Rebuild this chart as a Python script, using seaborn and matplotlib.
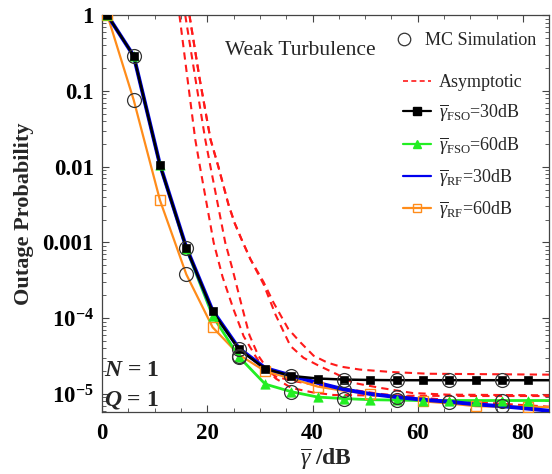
import matplotlib
matplotlib.use('Agg')
import matplotlib.pyplot as plt
from matplotlib.lines import Line2D
from matplotlib.ticker import FixedLocator, LogLocator, NullFormatter, MultipleLocator
import pandas as pd
import seaborn as sns

# average SNR grid (dB) of the exact curves; markers sit on the first 17 points
snr_db = [1, 6, 11, 16, 21, 26, 31, 36, 41, 46, 51, 56, 61, 66, 71, 76, 81, 85]
fso30 = [1.0, 0.29, 0.0105, 8.5e-4, 1.23e-4, 3.9e-5, 2.15e-5, 1.73e-5, 1.6e-5, 1.55e-5,
         1.53e-5, 1.52e-5, 1.52e-5, 1.52e-5, 1.52e-5, 1.52e-5, 1.52e-5, 1.52e-5]
fso60 = [1.0, 0.29, 0.0105, 8.3e-4, 1.08e-4, 3.1e-5, 1.35e-5, 1.07e-5, 9.1e-6, 8.7e-6,
         8.4e-6, 8.3e-6, 8.2e-6, 8.2e-6, 8.2e-6, 8.2e-6, 8.2e-6, 8.2e-6]
rf30 = [1.0, 0.29, 0.0106, 8.6e-4, 1.26e-4, 4.0e-5, 2.2e-5, 1.75e-5, 1.4e-5, 1.15e-5,
        1.0e-5, 9.1e-6, 8.4e-6, 7.9e-6, 7.3e-6, 6.9e-6, 6.4e-6, 6.0e-6]
rf60 = [1.0, 0.076, 0.0036, 3.8e-4, 7.6e-5, 3.3e-5, 2.0e-5, 1.6e-5, 1.25e-5, 1.1e-5,
        1.0e-5, 9.0e-6, 8.0e-6, 7.5e-6, 6.9e-6, 6.8e-6, 6.8e-6, 6.7e-6]

# Monte Carlo points
mc_x_fso30 = [6, 16, 26, 36, 46, 56, 66, 76]
mc_fso30 = [0.29, 8.5e-4, 3.9e-5, 1.73e-5, 1.55e-5, 1.52e-5, 1.52e-5, 1.52e-5]
mc_x_fso60 = [26, 36, 46, 56, 76]
mc_fso60 = [3.1e-5, 1.07e-5, 8.6e-6, 8.4e-6, 8.2e-6]
mc_x_rf30 = [46, 56, 66, 76]
mc_rf30 = [1.13e-5, 9.1e-6, 7.9e-6, 6.9e-6]
mc_x_rf60 = [6, 16, 26]
mc_rf60 = [0.076, 3.8e-4, 3.2e-5]

# asymptotic curves
asy_a_x = [14.7, 16.2, 17.7, 18.6, 21.2, 22.9, 25, 26.9, 29.1, 30.5, 33, 36, 41, 47, 53, 60,
           66, 75, 85]
asy_a = [1.0, 0.15, 0.023, 0.01, 1e-3, 3.5e-4, 1.3e-4, 5.8e-5, 3.2e-5, 2.3e-5, 1.7e-5, 1.5e-5,
         1.3e-5, 1.15e-5, 1.0e-5, 9.0e-6, 8.3e-6, 7.5e-6, 6.8e-6]
asy_b_x = [15.8, 17.7, 19.6, 20.6, 23.4, 24.8, 26.5, 28, 29.7, 31.5, 33, 36, 40, 44, 55, 70, 85]
asy_b = [1.0, 0.15, 0.023, 0.01, 1e-3, 4.4e-4, 1.5e-4, 6e-5, 3.2e-5, 2.1e-5, 1.6e-5, 1.2e-5,
         1.05e-5, 9.7e-6, 9.5e-6, 9.4e-6, 9.4e-6]
asy_c_x = [16.6, 18.5, 20.6, 22.1, 24, 25.2, 26.5, 28.2, 30.7, 32.6, 35.4, 37.7, 40.2, 42.8,
           45.3, 49, 55, 62, 85]
asy_c = [1.0, 0.15, 0.023, 0.01, 3.2e-3, 1.8e-3, 1.1e-3, 6e-4, 3e-4, 1.6e-4, 7.2e-5, 4.8e-5,
         3.2e-5, 2.6e-5, 2.3e-5, 2.1e-5, 1.95e-5, 1.85e-5, 1.8e-5]
asy_d_x = [16.6, 18.5, 20.6, 22.1, 24, 25.2, 26.5, 28.2, 30.7, 33, 35.8, 38.3, 41, 44.8, 47.8,
           53, 59, 65.7, 85]
asy_d = [1.0, 0.15, 0.023, 0.01, 3.2e-3, 1.8e-3, 1.1e-3, 6e-4, 2.8e-4, 1.1e-4, 4.3e-5, 3.0e-5,
         2.4e-5, 1.8e-5, 1.4e-5, 1.2e-5, 1.03e-5, 9.8e-6, 9.6e-6]

sns.set_style('ticks')
plt.rcParams['font.family'] = ['Liberation Serif', 'DejaVu Serif']
plt.rcParams['mathtext.fontset'] = 'custom'
plt.rcParams['mathtext.rm'] = 'Liberation Serif'
plt.rcParams['mathtext.it'] = 'Liberation Serif:italic'
plt.rcParams['mathtext.bf'] = 'Liberation Serif:bold'
plt.rcParams['mathtext.bfit'] = 'Liberation Serif:bold:italic'

RED = '#ff1a1a'
BLUE = '#0000ee'
GREEN = '#22ee22'
ORANGE = '#ff8c1a'

fig = plt.figure(figsize=(5.52, 4.74), dpi=100)
ax = fig.add_axes([0.185, 0.131, 0.81, 0.837])

exact = pd.DataFrame({
    'snr': snr_db * 4,
    'P': fso30 + fso60 + rf30 + rf60,
    'case': ['fso30'] * 18 + ['fso60'] * 18 + ['rf30'] * 18 + ['rf60'] * 18,
})

asy = pd.concat([
    pd.DataFrame({'snr': asy_a_x, 'P': asy_a, 'curve': 'a'}),
    pd.DataFrame({'snr': asy_b_x, 'P': asy_b, 'curve': 'b'}),
    pd.DataFrame({'snr': asy_c_x, 'P': asy_c, 'curve': 'c'}),
    pd.DataFrame({'snr': asy_d_x, 'P': asy_d, 'curve': 'd'}),
])

for name, g in asy.groupby('curve'):
    sns.lineplot(data=g, x='snr', y='P', color=RED, lw=1.5, ax=ax, sort=False,
                 estimator=None, dashes=False, linestyle=(0, (3.5, 2.5)), zorder=2)

sns.lineplot(data=exact[exact.case == 'rf60'], x='snr', y='P', color=ORANGE, lw=1.6,
             ax=ax, estimator=None, zorder=3)
sns.lineplot(data=exact[exact.case == 'fso60'], x='snr', y='P', color=GREEN, lw=2.0,
             ax=ax, estimator=None, zorder=3)
sns.lineplot(data=exact[exact.case == 'rf30'], x='snr', y='P', color=BLUE, lw=2.8,
             ax=ax, estimator=None, zorder=4)
sns.lineplot(data=exact[exact.case == 'fso30'], x='snr', y='P', color='black', lw=1.8,
             ax=ax, estimator=None, zorder=5)

# markers
ax.plot(snr_db[:-1:2], rf60[:-1:2], 's', ms=6.5, mfc='none', mec=ORANGE, mew=1.0, zorder=6)
sns.scatterplot(x=snr_db[:-1], y=fso60[:-1], marker='^', color=GREEN, s=45,
                edgecolor=GREEN, ax=ax, zorder=6)
sns.scatterplot(x=snr_db[:-1], y=fso30[:-1], marker='s', color='black', s=36,
                edgecolor='black', ax=ax, zorder=7)
for mx, my in [(mc_x_fso30, mc_fso30), (mc_x_fso60, mc_fso60),
               (mc_x_rf30, mc_rf30), (mc_x_rf60, mc_rf60)]:
    ax.plot(mx, my, 'o', ms=10, mfc='none', mec='#333333', mew=0.9, zorder=8)

ax.set_yscale('log')
ax.set_xlim(0, 85)
ax.set_ylim(5.8e-6, 1)

yt = [1e-5, 1e-4, 1e-3, 1e-2, 1e-1, 1]
ax.yaxis.set_major_locator(FixedLocator(yt))
ax.set_yticklabels([r'$\mathbf{10^{-5}}$', r'$\mathbf{10^{-4}}$', '0.001', '0.01', '0.1', '1'])
ax.yaxis.set_minor_locator(LogLocator(base=10, subs=range(2, 10), numticks=20))
ax.yaxis.set_minor_formatter(NullFormatter())
ax.xaxis.set_major_locator(MultipleLocator(20))
ax.xaxis.set_minor_locator(MultipleLocator(5))
for lab in ax.get_xticklabels() + ax.get_yticklabels():
    lab.set_fontweight('bold')
ax.tick_params(axis='both', which='both', direction='in', top=True, right=True,
               labelsize=16.5, colors='#444444', labelcolor='black')
ax.tick_params(axis='y', which='major', pad=6)
ax.tick_params(axis='x', which='major', pad=8)
ax.tick_params(which='major', length=5, width=0.8)
ax.tick_params(which='minor', length=3, width=0.6)
for sp in ax.spines.values():
    sp.set_color('#444444')
    sp.set_linewidth(0.9)

ax.set_ylabel('Outage Probability', fontsize=16, fontweight='bold', labelpad=6)
ax.set_xlabel(r'$\overline{\gamma}$ /dB', fontsize=17, fontweight='bold', labelpad=2)

ax.text(0.275, 0.91, 'Weak Turbulence', transform=ax.transAxes, fontsize=15.5,
        ha='left', va='center')
ax.text(0.005, 0.105, r'$\mathbfit{N}$ = 1', transform=ax.transAxes, fontsize=17,
        fontweight='bold', ha='left', va='center')
ax.text(0.005, 0.03, r'$\mathbfit{Q}$ = 1', transform=ax.transAxes, fontsize=17,
        fontweight='bold', ha='left', va='center')

h_mc = [Line2D([], [], ls='none', marker='o', ms=9, mfc='none', mec='#333333', mew=0.9)]
leg1 = ax.legend(h_mc, ['MC Simulation'], loc='upper right', bbox_to_anchor=(0.995, 0.985),
                 frameon=False, fontsize=13, handlelength=1.5, handletextpad=0.4,
                 borderaxespad=0.2)
ax.add_artist(leg1)

handles = [
    Line2D([], [], color=RED, ls=(0, (3, 2)), lw=1.2),
    Line2D([], [], color='black', lw=1.6, marker='s', ms=6),
    Line2D([], [], color=GREEN, lw=1.6, marker='^', ms=6),
    Line2D([], [], color=BLUE, lw=1.6),
    Line2D([], [], color=ORANGE, lw=1.6, marker='s', ms=6, mfc='none', mec=ORANGE),
]
labels = ['Asymptotic',
          r'$\overline{\gamma}_{\rm FSO}$=30dB', r'$\overline{\gamma}_{\rm FSO}$=60dB',
          r'$\overline{\gamma}_{\rm RF}$=30dB', r'$\overline{\gamma}_{\rm RF}$=60dB']
ax.legend(handles, labels, loc='upper right', bbox_to_anchor=(0.965, 0.879), frameon=False,
          fontsize=13, labelspacing=0.64, handlelength=1.55, handletextpad=0.45,
          borderaxespad=0.2)

fig.savefig('out.png', dpi=100)
